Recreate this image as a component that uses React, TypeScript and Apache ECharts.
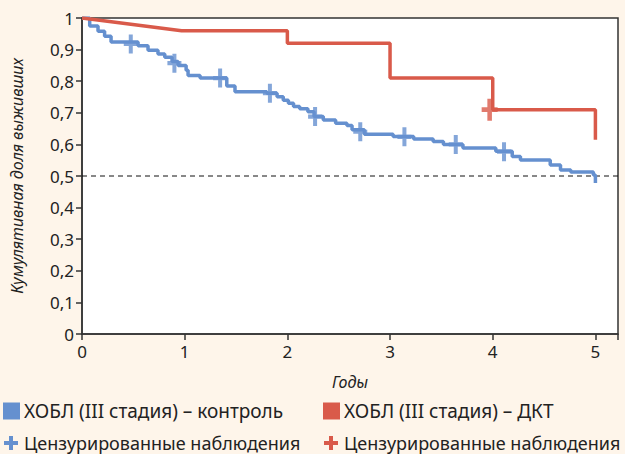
import React, { useEffect, useRef } from "react";
import * as echarts from "echarts";

const yearTicks = [0, 1, 2, 3, 4, 5];
const survivalTicks = [0, 0.1, 0.2, 0.3, 0.4, 0.5, 0.6, 0.7, 0.8, 0.9, 1];

// Control group (blue), Kaplan–Meier steps: [year, cumulative survival]
const controlSteps: [number, number][] = [
  [0, 1], [0.075, 0.975], [0.156, 0.958], [0.22, 0.942], [0.283, 0.924],
  [0.546, 0.912], [0.643, 0.898], [0.74, 0.886], [0.806, 0.876], [0.877, 0.862],
  [0.936, 0.85], [1.014, 0.835], [1.033, 0.818], [1.15, 0.81], [1.41, 0.785],
  [1.49, 0.767], [1.8, 0.762], [1.9, 0.751], [1.96, 0.74], [2.01, 0.73],
  [2.06, 0.72], [2.12, 0.713], [2.2, 0.703], [2.26, 0.688], [2.35, 0.677],
  [2.47, 0.667], [2.58, 0.66], [2.63, 0.646], [2.75, 0.632], [3.03, 0.625],
  [3.23, 0.617], [3.42, 0.609], [3.52, 0.6], [3.71, 0.589], [4.03, 0.578],
  [4.19, 0.562], [4.27, 0.551], [4.56, 0.535], [4.66, 0.519], [4.76, 0.513],
  [4.98, 0.503], [5.0, 0.478],
];
const controlCensored: [number, number][] = [
  [0.475, 0.918], [0.9, 0.857], [1.345, 0.81], [1.83, 0.762], [2.27, 0.688],
  [2.71, 0.64], [3.14, 0.624], [3.64, 0.6], [4.11, 0.577],
];

// DKT group (red)
const dktPath: [number, number][] = [
  [0, 1], [0.97, 0.96], [2, 0.96], [2, 0.92], [3, 0.92], [3, 0.81],
  [4, 0.81], [4, 0.71], [5, 0.71], [5, 0.615],
];
const dktCensored: [number, number][] = [[3.97, 0.71]];

const medianLine = 0.5;

const legendLabels = [
  "ХОБЛ (III стадия) – контроль",
  "ХОБЛ (III стадия) – ДКТ",
  "Цензурированные наблюдения",
  "Цензурированные наблюдения",
];

const BLUE = "#6590cf";
const RED = "#d95a4a";
const BG = "#fef5ea";
const FONT = "'Noto Sans', sans-serif";
const PLUS = "path://M5,0 H9 V7 H14 V11 H9 V18 H5 V11 H0 V7 H5 Z";

export default function App() {
  const ref = useRef<HTMLDivElement>(null);
  useEffect(() => {
    document.body.style.margin = "0";
    const chart = echarts.init(ref.current!, null, { renderer: "svg" });
    const legendItem = (x: number, y: number, color: string, label: string, plus: boolean, size: number) => {
      const marker = plus
        ? [
            { type: "rect", shape: { x: x + 5, y: y - 7, width: 4, height: 14 }, style: { fill: color } },
            { type: "rect", shape: { x: x, y: y - 2, width: 14, height: 4 }, style: { fill: color } },
          ]
        : [{ type: "rect", shape: { x: x - 1, y: y - 8.5, width: 17, height: 17 }, style: { fill: color } }];
      return [
        ...marker,
        {
          type: "text",
          x: x + 20,
          y: y,
          style: { text: label, font: `${size}px ${FONT}`, fill: "#222", textVerticalAlign: "middle" },
        },
      ];
    };
    const tickFont = { fontFamily: FONT, fontSize: 17, color: "#222" };
    const nameFont = { fontFamily: FONT, fontStyle: "italic", fontSize: 16, color: "#222" };
    chart.setOption({
      animation: false,
      backgroundColor: BG,
      grid: {
        left: 82, top: 18, right: 7, bottom: 120,
        show: true, backgroundColor: "#fff", borderColor: "#333", borderWidth: 1.5,
      },
      xAxis: {
        type: "value", min: 0, max: 5.22, interval: 1,
        name: "Годы", nameLocation: "middle", nameGap: 40,
        nameTextStyle: nameFont,
        axisLine: { show: true, lineStyle: { color: "#333", width: 1.5 } },
        axisTick: { show: true, length: 6, lineStyle: { color: "#333", width: 1.5 } },
        splitLine: { show: false },
        axisLabel: {
          ...tickFont, margin: 9,
          formatter: (v: number) => (yearTicks.includes(Math.round(v * 100) / 100) ? String(v) : ""),
        },
      },
      yAxis: {
        type: "value", min: 0, max: 1, interval: 0.1,
        name: "Кумулятивная доля выживших", nameLocation: "middle", nameGap: 57,
        nameTextStyle: nameFont,
        axisLine: { show: true, lineStyle: { color: "#333", width: 1.5 } },
        axisTick: { show: true, length: 6, lineStyle: { color: "#333", width: 1.5 } },
        splitLine: { show: false },
        axisLabel: {
          ...tickFont, margin: 8,
          formatter: (v: number) => {
            const t = survivalTicks.find((s) => Math.abs(s - v) < 1e-6);
            if (t === undefined) return "";
            if (t === 0 || t === 1) return String(t);
            return t.toFixed(1).replace(".", ",");
          },
        },
      },
      series: [
        {
          type: "line", data: [[0, medianLine], [5.22, medianLine]], showSymbol: false, silent: true,
          lineStyle: { color: "#111", width: 1, type: [5, 4] }, z: 1,
        },
        {
          type: "line", step: "end", data: controlSteps, showSymbol: false,
          lineStyle: { color: BLUE, width: 3.5 }, z: 3,
        },
        {
          type: "line", data: dktPath, showSymbol: false,
          lineStyle: { color: RED, width: 3.5 }, z: 3,
        },
        {
          type: "scatter", data: controlCensored, symbol: PLUS, symbolSize: [14, 19],
          itemStyle: { color: BLUE }, z: 4,
        },
        {
          type: "scatter", data: dktCensored, symbol: PLUS, symbolSize: [16, 22],
          itemStyle: { color: RED }, z: 4,
        },
      ],
      graphic: [
        ...legendItem(4, 411, BLUE, legendLabels[0], false, 19),
        ...legendItem(324, 411, RED, legendLabels[1], false, 19),
        ...legendItem(4, 443, BLUE, legendLabels[2], true, 18),
        ...legendItem(324, 443, RED, legendLabels[3], true, 18),
      ],
    });
    return () => chart.dispose();
  }, []);
  return <div ref={ref} style={{ width: 625, height: 454 }} />;
}
